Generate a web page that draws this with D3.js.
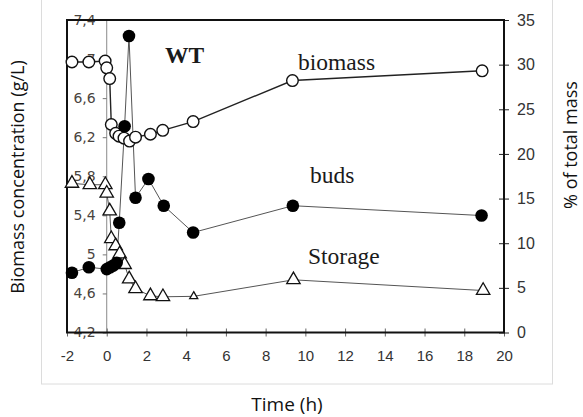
<!DOCTYPE html>
<html>
<head>
<meta charset="utf-8">
<script src="https://cdn.jsdelivr.net/npm/d3@7"></script>
<style>
  body { margin: 0; background: #fff; }
  svg { display: block; }
</style>
</head>
<body>
<svg id="chart" width="583" height="417"></svg>
<script>
// values
const biomassTime = [-1.75, -0.9, -0.08, 0, 0.15, 0.23, 0.45, 0.62, 0.87, 1.15, 1.45, 2.2, 2.82, 4.35, 9.35, 18.9];
const biomass = [6.97, 6.97, 6.98, 6.91, 6.80, 6.33, 6.24, 6.21, 6.19, 6.16, 6.20, 6.23, 6.27, 6.36, 6.78, 6.88];

const budsTime = [-1.75, -0.9, 0, 0.17, 0.33, 0.5, 0.63, 0.9, 1.12, 1.45, 2.1, 2.87, 4.35, 9.37, 18.87];
const buds = [6.7, 7.3, 7.1, 7.3, 7.5, 7.8, 12.3, 23.1, 33.2, 15.1, 17.2, 14.2, 11.2, 14.2, 13.1];

const storageTime = [-1.75, -0.85, -0.07, 0, 0.15, 0.23, 0.45, 0.65, 0.9, 1.13, 1.45, 2.2, 2.83, 4.38, 9.4, 18.95];
const storage = [16.7, 16.55, 16.55, 15.6, 13.6, 10.5, 9.7, 8.8, 7.6, 6.0, 4.9, 4.1, 4.0, 4.05, 5.9, 4.7];
const smallStorageIndex = 13;

const xTicks = [-2, 0, 2, 4, 6, 8, 10, 12, 14, 16, 18, 20];
const leftTicks = [4.2, 4.6, 5, 5.4, 5.8, 6.2, 6.6, 7, 7.4];
const rightTicks = [0, 5, 10, 15, 20, 25, 30, 35];

const svg = d3.select("#chart");
const plotL = 67, plotR = 504, plotT = 20, plotB = 332.5;

const x = d3.scaleLinear().domain([-2, 20]).range([plotL, plotR]);
const yL = d3.scaleLinear().domain([4.2, 7.4]).range([plotB, plotT]);
const yR = d3.scaleLinear().domain([0, 35]).range([plotB, plotT]);

// outer light border of the pasted figure
svg.append("rect")
  .attr("x", 41.5).attr("y", -10)
  .attr("width", 511).attr("height", 394)
  .attr("fill", "none")
  .attr("stroke", "#dcdcdc");

// grey vertical line at t = 0
svg.append("line")
  .attr("x1", x(0)).attr("x2", x(0))
  .attr("y1", plotT).attr("y2", plotB)
  .attr("stroke", "#8a8a8a").attr("stroke-width", 1);

const comma = v => String(+v.toFixed(1)).replace(".", ",");

// left axis sits on the t = 0 line
const gL = svg.append("g")
  .attr("transform", `translate(${x(0)},0)`)
  .call(d3.axisLeft(yL).tickValues(leftTicks).tickFormat(comma).tickSize(4).tickPadding(7));
gL.select(".domain").remove();
gL.selectAll("line").attr("stroke", "#777");
gL.selectAll("text")
  .attr("font-family", "DejaVu Sans")
  .attr("font-size", 14)
  .attr("fill", "#4a443e");

// bottom axis
const gB = svg.append("g")
  .attr("transform", `translate(0,${plotB})`)
  .call(d3.axisBottom(x).tickValues(xTicks).tickFormat(d => String(d)).tickSize(4).tickPadding(14));
gB.select(".domain").remove();
gB.selectAll("line").attr("y1", -4).attr("stroke", "#666");
gB.selectAll("text")
  .attr("font-family", "Liberation Sans")
  .attr("font-size", 15)
  .attr("fill", "#333");

// right axis
const gR = svg.append("g")
  .attr("transform", `translate(${plotR},0)`)
  .call(d3.axisRight(yR).tickValues(rightTicks).tickSize(5).tickPadding(8));
gR.select(".domain").remove();
gR.selectAll("line").attr("x1", -5).attr("stroke", "#222");
gR.selectAll("text")
  .attr("font-family", "Liberation Sans")
  .attr("font-size", 16)
  .attr("fill", "#333");

// frame
svg.append("rect")
  .attr("x", plotL).attr("y", plotT)
  .attr("width", plotR - plotL).attr("height", plotB - plotT)
  .attr("fill", "none")
  .attr("stroke", "#111").attr("stroke-width", 2);

// series lines
const storagePts = storageTime.map((t, i) => [t, storage[i]]);
const budsPts = budsTime.map((t, i) => [t, buds[i]]);
const biomassPts = biomassTime.map((t, i) => [t, biomass[i]]);

svg.append("path")
  .datum(storagePts)
  .attr("fill", "none").attr("stroke", "#555").attr("stroke-width", 1)
  .attr("d", d3.line().x(d => x(d[0])).y(d => yR(d[1])));

svg.append("path")
  .datum(budsPts)
  .attr("fill", "none").attr("stroke", "#555").attr("stroke-width", 1)
  .attr("d", d3.line().x(d => x(d[0])).y(d => yR(d[1])));

svg.append("path")
  .datum(biomassPts)
  .attr("fill", "none").attr("stroke", "#222").attr("stroke-width", 1.4)
  .attr("d", d3.line().x(d => x(d[0])).y(d => yL(d[1])));

// markers
const tri = d3.symbol().type(d3.symbolTriangle);
svg.append("g").selectAll("path")
  .data(storagePts)
  .join("path")
  .attr("transform", d => `translate(${x(d[0])},${yR(d[1])})`)
  .attr("d", (d, i) => tri.size(i === smallStorageIndex ? 28 : 78)())
  .attr("fill", "#fff").attr("stroke", "#111").attr("stroke-width", 1.3);

svg.append("g").selectAll("circle")
  .data(biomassPts)
  .join("circle")
  .attr("cx", d => x(d[0])).attr("cy", d => yL(d[1]))
  .attr("r", 5.8)
  .attr("fill", "#fff").attr("stroke", "#111").attr("stroke-width", 1.4);

svg.append("g").selectAll("circle")
  .data(budsPts)
  .join("circle")
  .attr("cx", d => x(d[0])).attr("cy", d => yR(d[1]))
  .attr("r", 6.3)
  .attr("fill", "#000");

// in-plot labels
const serif = (txt, tx, ty, bold) => svg.append("text")
  .attr("x", tx).attr("y", ty)
  .attr("font-family", "Liberation Serif")
  .attr("font-size", 23.5)
  .attr("font-weight", bold ? "bold" : "normal")
  .attr("fill", "#1a1a1a")
  .text(txt);
serif("WT", 165, 63, true);
serif("biomass", 298, 70, false);
serif("buds", 310, 183, false);
serif("Storage", 308, 264, false);

// axis titles
svg.append("text")
  .attr("transform", "translate(24,177) rotate(-90)")
  .attr("text-anchor", "middle")
  .attr("font-family", "Open Sans")
  .attr("font-size", 18)
  .attr("fill", "#111")
  .text("Biomass concentration (g/L)");

svg.append("text")
  .attr("transform", "translate(577,145) rotate(-90)")
  .attr("text-anchor", "middle")
  .attr("font-family", "Open Sans")
  .attr("font-size", 18)
  .attr("fill", "#111")
  .text("% of total mass");

svg.append("text")
  .attr("x", 287).attr("y", 411)
  .attr("text-anchor", "middle")
  .attr("font-family", "Open Sans")
  .attr("font-size", 19)
  .attr("fill", "#111")
  .text("Time (h)");
</script>
</body>
</html>
